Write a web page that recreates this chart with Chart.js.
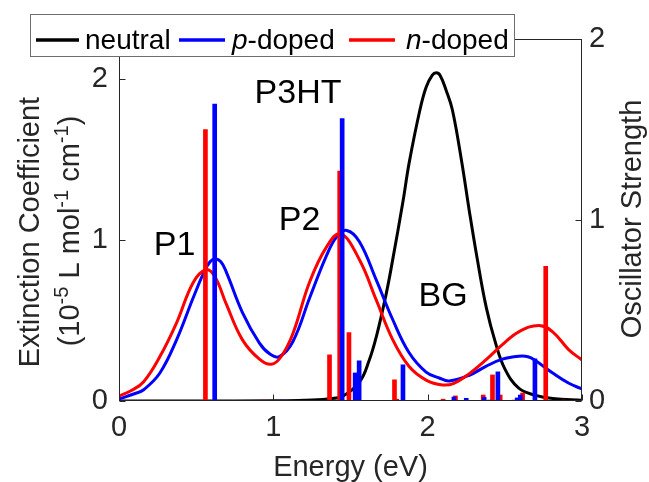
<!DOCTYPE html>
<html>
<head>
<meta charset="utf-8">
<script src="https://cdn.jsdelivr.net/npm/chart.js@4/dist/chart.umd.min.js"></script>
<style>
html,body{margin:0;padding:0;background:#fff;}
#c{display:block;}
</style>
</head>
<body>
<canvas id="c" width="649" height="482" style="width:649px;height:482px"></canvas>
<script>
// ---------- data ----------
const xTicks = [0, 1, 2, 3];
const leftTicks = [0, 1, 2];
const rightTicks = [0, 1, 2];

// neutral absorption (extinction coefficient, left axis)
const neutralE = [0, 0.5, 1.0, 1.2, 1.35, 1.45, 1.56, 1.62, 1.67, 1.73, 1.77, 1.84, 1.88, 1.95, 1.99, 2.03, 2.055, 2.08, 2.12, 2.16, 2.22, 2.27, 2.32, 2.38, 2.44, 2.50, 2.59, 2.70, 2.81, 3.0];
const neutralY = [0, 0, 0.001, 0.004, 0.013, 0.03, 0.12, 0.25, 0.41, 0.66, 0.86, 1.24, 1.48, 1.81, 1.95, 2.025, 2.04, 2.025, 1.93, 1.81, 1.49, 1.18, 0.89, 0.58, 0.36, 0.20, 0.08, 0.035, 0.015, 0.004];

// p-doped absorption
const pE = [0, 0.1, 0.16, 0.265, 0.373, 0.48, 0.55, 0.59, 0.623, 0.66, 0.696, 0.80, 0.91, 0.98, 1.04, 1.127, 1.235, 1.343, 1.41, 1.476, 1.558, 1.666, 1.774, 1.88, 1.99, 2.075, 2.14, 2.27, 2.377, 2.484, 2.59, 2.65, 2.70, 2.81, 2.915, 3.0];
const pY = [0.012, 0.045, 0.07, 0.174, 0.38, 0.64, 0.80, 0.865, 0.883, 0.865, 0.80, 0.55, 0.36, 0.29, 0.276, 0.37, 0.64, 0.90, 1.02, 1.06, 0.99, 0.754, 0.505, 0.30, 0.18, 0.143, 0.125, 0.16, 0.215, 0.26, 0.278, 0.275, 0.25, 0.174, 0.11, 0.075];

// n-doped absorption
const nE = [0, 0.08, 0.16, 0.265, 0.373, 0.48, 0.562, 0.62, 0.696, 0.80, 0.91, 0.987, 1.05, 1.127, 1.235, 1.343, 1.435, 1.558, 1.666, 1.774, 1.88, 1.99, 2.096, 2.17, 2.27, 2.377, 2.484, 2.59, 2.72, 2.81, 2.915, 3.0];
const nY = [0.03, 0.065, 0.12, 0.276, 0.486, 0.735, 0.816, 0.775, 0.60, 0.38, 0.26, 0.228, 0.275, 0.42, 0.74, 0.955, 1.04, 0.878, 0.63, 0.38, 0.214, 0.13, 0.10, 0.11, 0.17, 0.255, 0.35, 0.43, 0.47, 0.43, 0.318, 0.255];

// oscillator strengths (right axis)
const pBarE = [0.62, 1.06, 1.446, 1.53, 1.556, 1.84, 2.17, 2.25, 2.366, 2.40, 2.455, 2.58, 2.60, 2.695];
const pBarF = [1.64, 0.005, 1.56, 0.155, 0.222, 0.20, 0.022, 0.015, 0.02, 0.005, 0.161, 0.017, 0.033, 0.233];
const nBarE = [0.56, 0.95, 1.364, 1.43, 1.49, 1.785, 1.80, 2.10, 2.18, 2.36, 2.42, 2.47, 2.56, 2.615, 2.765, 2.88];
const nBarF = [1.50, 0.005, 0.255, 1.27, 0.378, 0.117, 0.01, 0.01, 0.028, 0.033, 0.144, 0.033, 0.005, 0.044, 0.744, 0.005];

const seriesNames = ['neutral', 'p-doped', 'n-doped'];
const labels = [
  {text: 'P3HT', E: 1.16, v: 1.85},
  {text: 'P2',   E: 1.17, v: 1.06},
  {text: 'P1',   E: 0.36, v: 0.91},
  {text: 'BG',   E: 2.10, v: 0.59}
];

// ---------- styling ----------
const FONT = '"Liberation Sans", Arial, Helvetica, sans-serif';
const AX = '#262626';

const pts = (E, Y) => E.map((e, i) => ({x: e, y: Y[i]}));
const curve = (E, Y, color, label, order) => ({
  type: 'line', label, data: pts(E, Y), borderColor: color, backgroundColor: color,
  borderWidth: 3, pointRadius: 0, fill: false, tension: 0.4, cubicInterpolationMode: 'default',
  borderJoinStyle: 'round', yAxisID: 'yL', order
});
const bars = (E, F, color, label) => ({
  type: 'bar', label, data: pts(E, F), backgroundColor: color, borderWidth: 0,
  barThickness: 4, grouped: false, yAxisID: 'yR', order: 0
});

const overlay = {
  id: 'overlay',
  afterDraw(chart) {
    const ctx = chart.ctx, a = chart.chartArea;
    const sx = chart.scales.x, sl = chart.scales.yL, sr = chart.scales.yR;
    ctx.save();
    // axes box
    const L = Math.round(a.left) + 0.5, R = Math.round(a.right) - 0.5;
    const T = Math.round(a.top) + 0.5, B = Math.round(a.bottom) - 0.5;
    ctx.strokeStyle = AX; ctx.lineWidth = 1;
    ctx.strokeRect(L, T, R - L, B - T);
    // inward ticks
    ctx.beginPath();
    xTicks.forEach(v => { const p = Math.round(sx.getPixelForValue(v)) + 0.5; ctx.moveTo(p, B); ctx.lineTo(p, B - 6); });
    leftTicks.forEach(v => { const p = Math.round(sl.getPixelForValue(v)) + 0.5; ctx.moveTo(L, p); ctx.lineTo(L + 6, p); });
    rightTicks.forEach(v => { const p = Math.round(sr.getPixelForValue(v)) + 0.5; ctx.moveTo(R, p); ctx.lineTo(R - 6, p); });
    ctx.stroke();

    // axis titles
    ctx.fillStyle = AX;
    ctx.textBaseline = 'alphabetic';
    ctx.font = '29px ' + FONT;
    ctx.textAlign = 'center';
    ctx.fillText('Energy (eV)', (a.left + a.right) / 2, 476);

    ctx.save();
    ctx.translate(641, 219); ctx.rotate(-Math.PI / 2);
    ctx.fillText('Oscillator Strength', 0, 0);
    ctx.restore();

    ctx.save();
    ctx.translate(39, 232); ctx.rotate(-Math.PI / 2);
    ctx.fillText('Extinction Coefficient', 0, 0);
    ctx.restore();

    // second line with superscripts
    const segs = [['(10', 0], ['-5', 1], [' L mol', 0], ['-1', 1], [' cm', 0], ['-1', 1], [')', 0]];
    const fN = '29px ' + FONT, fS = '20px ' + FONT;
    let tot = 0;
    segs.forEach(s => { ctx.font = s[1] ? fS : fN; tot += ctx.measureText(s[0]).width; });
    ctx.save();
    ctx.translate(79, 231); ctx.rotate(-Math.PI / 2);
    ctx.textAlign = 'left';
    let cx = -tot / 2;
    segs.forEach(s => {
      ctx.font = s[1] ? fS : fN;
      ctx.fillText(s[0], cx, s[1] ? -11 : 0);
      cx += ctx.measureText(s[0]).width;
    });
    ctx.restore();

    // annotations
    ctx.fillStyle = '#000';
    ctx.font = '34px ' + FONT;
    ctx.textAlign = 'center';
    labels.forEach(l => {
      ctx.fillText(l.text, sx.getPixelForValue(l.E), sl.getPixelForValue(l.v));
    });

    // legend
    ctx.fillStyle = '#fff';
    ctx.fillRect(30, 14, 485, 43);
    ctx.strokeStyle = '#6e6e6e'; ctx.lineWidth = 1;
    ctx.strokeRect(30.5, 14.5, 484, 42);
    const items = [
      {color: '#000000', x0: 36, x1: 79, tx: 85, parts: [['neutral', false]]},
      {color: '#0000ff', x0: 179, x1: 225, tx: 232, parts: [['p', true], ['-doped', false]]},
      {color: '#ff0000', x0: 349, x1: 395, tx: 406, parts: [['n', true], ['-doped', false]]}
    ];
    ctx.lineWidth = 3.5;
    ctx.textAlign = 'left';
    items.forEach(it => {
      ctx.strokeStyle = it.color;
      ctx.beginPath(); ctx.moveTo(it.x0, 40); ctx.lineTo(it.x1, 40); ctx.stroke();
      let tx = it.tx;
      ctx.fillStyle = '#000';
      it.parts.forEach(p => {
        ctx.font = (p[1] ? 'italic ' : '') + '28px ' + FONT;
        ctx.fillText(p[0], tx, 49);
        tx += ctx.measureText(p[0]).width;
      });
    });
    ctx.restore();
  }
};

const tickFont = {family: FONT, size: 29};
new Chart(document.getElementById('c'), {
  type: 'line',
  data: {
    datasets: [
      bars(pBarE, pBarF, '#0000ff', 'p-doped f'),
      bars(nBarE, nBarF, '#ff0000', 'n-doped f'),
      curve(nE, nY, '#ff0000', seriesNames[2], 1),
      curve(pE, pY, '#0000ff', seriesNames[1], 2),
      curve(neutralE, neutralY, '#000000', seriesNames[0], 3)
    ]
  },
  options: {
    responsive: false,
    devicePixelRatio: 1,
    animation: false,
    events: [],
    layout: {padding: {top: 39, left: 0, right: 0, bottom: 0}},
    plugins: {legend: {display: false}, tooltip: {enabled: false}, title: {display: false}},
    scales: {
      x: {
        type: 'linear', min: 0, max: 3, offset: false,
        grid: {display: false, drawTicks: false}, border: {display: false},
        afterBuildTicks: s => { s.ticks = xTicks.map(v => ({value: v})); },
        afterFit: s => { s.height = 81; },
        ticks: {font: tickFont, color: AX, padding: 10, maxRotation: 0, autoSkip: false}
      },
      yL: {
        type: 'linear', position: 'left', min: 0, max: 2.25,
        grid: {display: false, drawTicks: false}, border: {display: false},
        afterBuildTicks: s => { s.ticks = leftTicks.map(v => ({value: v})); },
        afterFit: s => { s.width = 119; },
        ticks: {font: tickFont, color: AX, padding: 11}
      },
      yR: {
        type: 'linear', position: 'right', min: 0, max: 2,
        grid: {display: false, drawTicks: false}, border: {display: false},
        afterBuildTicks: s => { s.ticks = rightTicks.map(v => ({value: v})); },
        afterFit: s => { s.width = 67; },
        ticks: {font: tickFont, color: AX, padding: 7}
      }
    }
  },
  plugins: [overlay]
});
</script>
</body>
</html>
